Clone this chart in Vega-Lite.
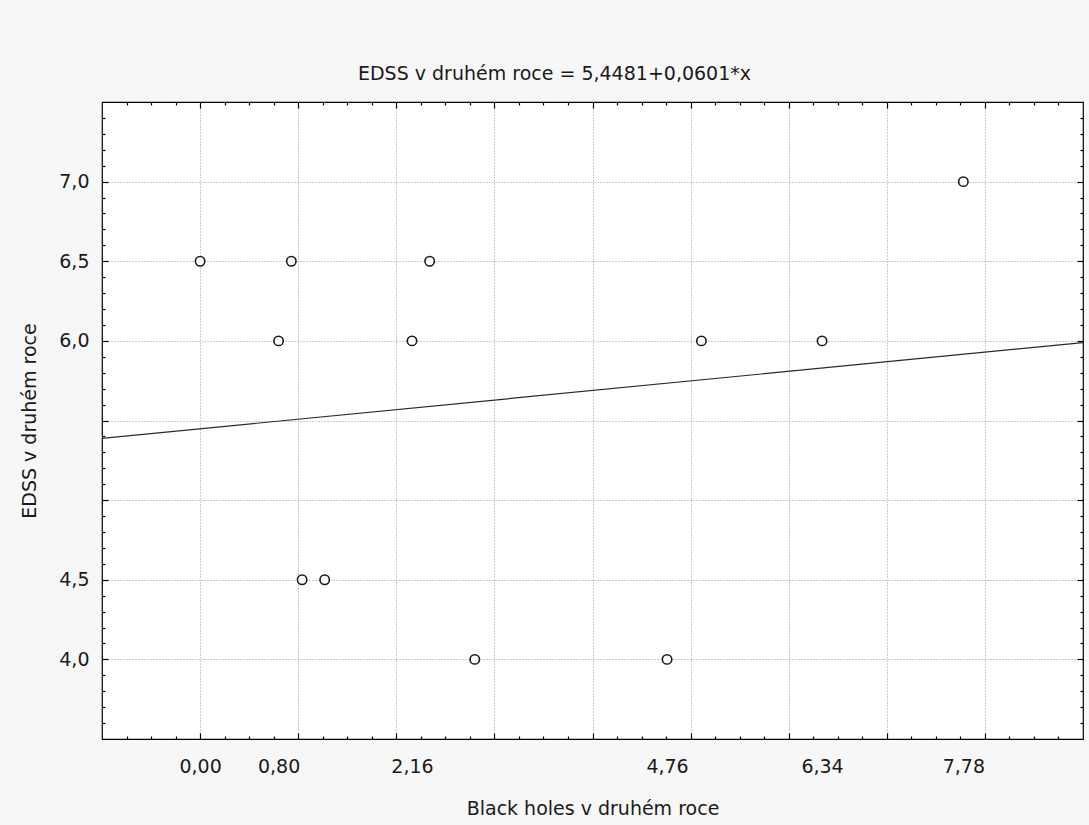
{
  "$schema": "https://vega.github.io/schema/vega-lite/v6.json",
  "width": 981,
  "height": 637,
  "autosize": "none",
  "padding": {"left": 102, "top": 102, "right": 6, "bottom": 86},
  "background": "#f7f7f7",
  "config": {
    "view": {"fill": "white", "stroke": "#000000", "strokeWidth": 1.2},
    "font": "DejaVu Sans",
    "axis": {
      "labelFont": "DejaVu Sans",
      "labelFontSize": 19,
      "labelColor": "#1a1a1a",
      "titleFont": "DejaVu Sans",
      "titleFontSize": 19,
      "titleFontWeight": "normal",
      "titleColor": "#1a1a1a",
      "tickColor": "#000000",
      "tickWidth": 1.2,
      "domain": false,
      "labelOverlap": false,
      "labelFlush": false
    }
  },
  "title": {
    "text": "EDSS v druhém roce = 5,4481+0,0601*x",
    "font": "DejaVu Sans",
    "fontSize": 19,
    "fontWeight": "normal",
    "color": "#1a1a1a",
    "anchor": "middle",
    "frame": "group",
    "dx": -38,
    "offset": 17
  },
  "resolve": {"axis": {"x": "independent", "y": "independent"}},
  "layer": [
    {
      "data": {"values": [
        {"black_holes": -1, "edss": 5.388},
        {"black_holes": 9, "edss": 5.989}
      ]},
      "mark": {"type": "line", "color": "#2a2a2a", "strokeWidth": 1.2},
      "encoding": {
        "x": {
          "field": "black_holes", "type": "quantitative",
          "scale": {"domain": [-1, 9], "nice": false, "zero": false},
          "axis": {
            "orient": "top", "title": null, "labels": false, "grid": false,
            "values": [-0.75,-0.5,-0.25,0,0.25,0.5,0.75,1,1.25,1.5,1.75,2,2.25,2.5,2.75,3,3.25,3.5,3.75,4,4.25,4.5,4.75,5,5.25,5.5,5.75,6,6.25,6.5,6.75,7,7.25,7.5,7.75,8,8.25,8.5,8.75],
            "tickSize": {"condition": {"test": "datum.value % 1 == 0", "value": -6}, "value": -3}
          }
        },
        "y": {
          "field": "edss", "type": "quantitative",
          "scale": {"domain": [3.5, 7.5], "nice": false, "zero": false},
          "axis": {
            "orient": "right", "title": null, "labels": false, "grid": false,
            "values": [3.6,3.7,3.8,3.9,4,4.1,4.2,4.3,4.4,4.5,4.6,4.7,4.8,4.9,5,5.1,5.2,5.3,5.4,5.5,5.6,5.7,5.8,5.9,6,6.1,6.2,6.3,6.4,6.5,6.6,6.7,6.8,6.9,7,7.1,7.2,7.3,7.4],
            "tickSize": {"condition": {"test": "abs(datum.value*2 - round(datum.value*2)) < 0.01", "value": -6}, "value": -3}
          }
        }
      }
    },
    {
      "data": {"values": [
        {"black_holes": 0.0, "edss": 6.5},
        {"black_holes": 0.93, "edss": 6.5},
        {"black_holes": 0.8, "edss": 6.0},
        {"black_holes": 1.04, "edss": 4.5},
        {"black_holes": 1.27, "edss": 4.5},
        {"black_holes": 2.16, "edss": 6.0},
        {"black_holes": 2.34, "edss": 6.5},
        {"black_holes": 2.8, "edss": 4.0},
        {"black_holes": 4.76, "edss": 4.0},
        {"black_holes": 5.11, "edss": 6.0},
        {"black_holes": 6.34, "edss": 6.0},
        {"black_holes": 7.78, "edss": 7.0}
      ]},
      "mark": {"type": "point", "shape": "circle", "filled": false, "fill": "white", "stroke": "#1a1a1a", "strokeWidth": 1.6, "size": 88, "opacity": 1},
      "encoding": {
        "x": {
          "field": "black_holes", "type": "quantitative",
          "scale": {"domain": [-1, 9], "nice": false, "zero": false},
          "axis": {
            "orient": "bottom",
            "title": "Black holes v druhém roce",
            "values": [-0.75,-0.5,-0.25,0,0.25,0.5,0.75,1,1.25,1.5,1.75,2,2.25,2.5,2.75,3,3.25,3.5,3.75,4,4.25,4.5,4.75,5,5.25,5.5,5.75,6,6.25,6.5,6.75,7,7.25,7.5,7.75,8,8.25,8.5,8.75,0.8,2.16,4.76,6.34,7.78],
            "labelExpr": "indexof([0,0.8,2.16,4.76,6.34,7.78], datum.value) >= 0 ? replace(format(datum.value, '.2f'), '.', ',') : ''",
            "labelPadding": {"condition": {"test": "datum.value % 1 == 0", "value": 24}, "value": 18},
            "titlePadding": 23,
            "tickSize": {"condition": [{"test": "indexof([0.8,2.16,4.76,6.34,7.78], datum.value) >= 0", "value": 0}, {"test": "datum.value % 1 == 0", "value": -6}], "value": -3},
            "grid": true,
            "gridColor": "#999999",
            "gridDash": [1, 2],
            "gridWidth": 1,
            "gridOpacity": {"condition": {"test": "datum.value % 1 == 0", "value": 1}, "value": 0}
          }
        },
        "y": {
          "field": "edss", "type": "quantitative",
          "scale": {"domain": [3.5, 7.5], "nice": false, "zero": false},
          "axis": {
            "orient": "left",
            "title": "EDSS v druhém roce",
            "values": [3.6,3.7,3.8,3.9,4,4.1,4.2,4.3,4.4,4.5,4.6,4.7,4.8,4.9,5,5.1,5.2,5.3,5.4,5.5,5.6,5.7,5.8,5.9,6,6.1,6.2,6.3,6.4,6.5,6.6,6.7,6.8,6.9,7,7.1,7.2,7.3,7.4],
            "labelExpr": "indexof([4,4.5,6,6.5,7], datum.value) >= 0 ? replace(format(datum.value, '.1f'), '.', ',') : ''",
            "labelPadding": 19,
            "titlePadding": 19,
            "tickSize": {"condition": {"test": "abs(datum.value*2 - round(datum.value*2)) < 0.01", "value": -6}, "value": -3},
            "grid": true,
            "gridColor": "#999999",
            "gridDash": [1, 2],
            "gridWidth": 1,
            "gridOpacity": {"condition": {"test": "abs(datum.value*2 - round(datum.value*2)) < 0.01", "value": 1}, "value": 0}
          }
        }
      }
    }
  ]
}
